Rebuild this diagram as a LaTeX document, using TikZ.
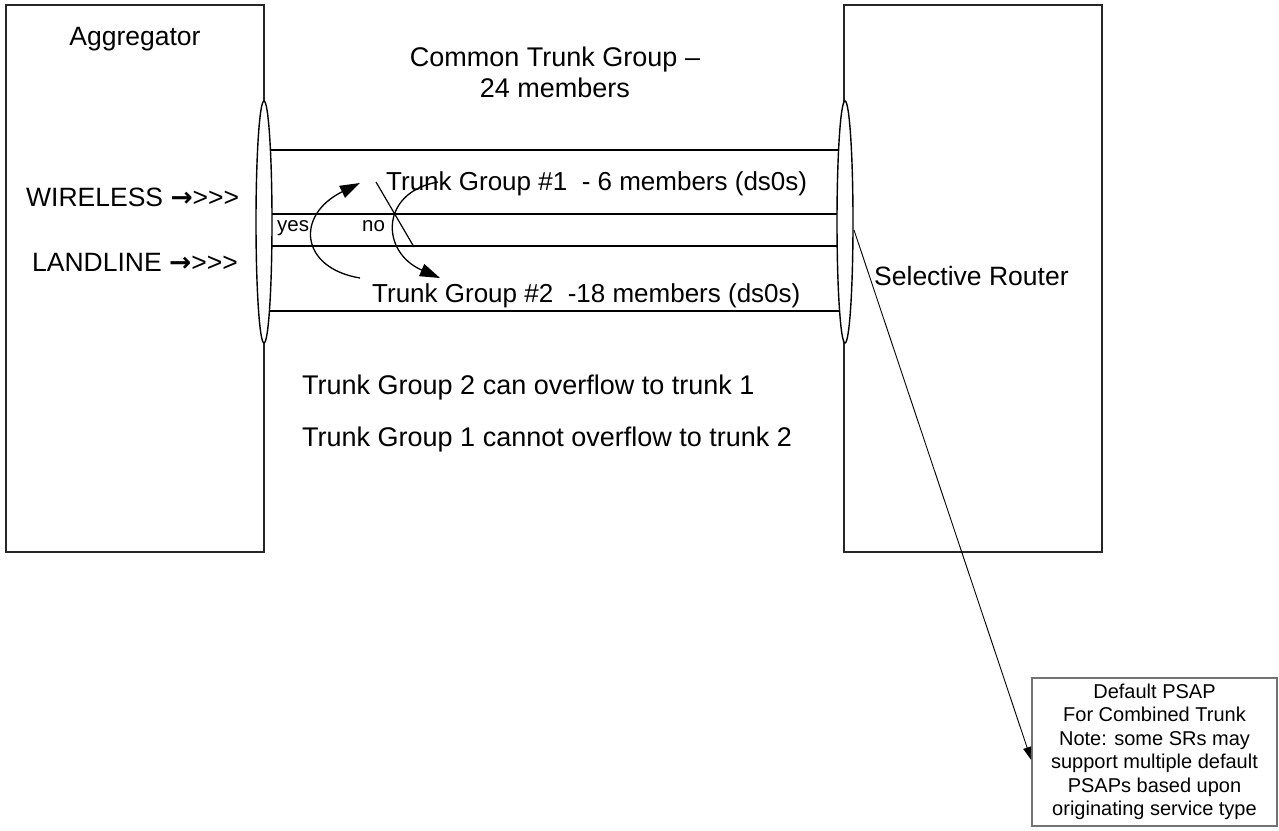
\documentclass[tikz,border=0pt]{standalone}
\usepackage{fontspec}
\setmainfont{Liberation Sans}[Ligatures=TeXOff]
\newfontfamily\symfont{DejaVu Sans}
\usetikzlibrary{arrows.meta,shapes.geometric}
\newcommand{\flowarrow}{{\symfont\bfseries →}}
\begin{document}
\begin{tikzpicture}[x=1pt,y=-1pt,
  switchbox/.style={draw=black!85, line width=1.8pt, inner sep=0pt},
  trunk/.style={draw=black, line width=1.4pt, fill=white, ellipse, inner sep=0pt,
    minimum width=16pt, minimum height=242pt},
  member/.style={draw=black, line width=1.3pt},
  lbl/.style={inner sep=0pt, font=\fontsize{26.5}{31}\selectfont},
  tglbl/.style={inner sep=0pt, font=\fontsize{26}{31}\selectfont},
  biglbl/.style={inner sep=0pt, font=\fontsize{27}{32}\selectfont},
  smalllbl/.style={inner sep=0pt, font=\fontsize{20.5}{24}\selectfont},
  choice/.style={line width=1.3pt, -{Triangle[length=20pt,width=13pt]}},
  pointer/.style={line width=0.9pt, -{Triangle[length=13pt,width=8pt]}},
  notebox/.style={draw=black!55, line width=1.5pt, align=center, inner sep=0pt,
    minimum width=245pt, minimum height=148pt, font=\fontsize{20}{23.5}\selectfont}
]
\useasboundingbox (0,0) rectangle (1279,830);

% switching offices
\node[switchbox, minimum width=258pt, minimum height=547pt] (agg) at (135,278.5) {};
\node[switchbox, minimum width=258pt, minimum height=547pt] (sr) at (973,278.5) {};

% trunk group members
\coordinate (l1) at (264,150); \coordinate (r1) at (845,150);
\coordinate (l2) at (264,214); \coordinate (r2) at (845,214);
\coordinate (l3) at (264,246); \coordinate (r3) at (845,246);
\coordinate (l4) at (264,311); \coordinate (r4) at (845,311);
\draw[member] (l1) -- (r1);
\draw[member] (l2) -- (r2);
\draw[member] (l3) -- (r3);
\draw[member] (l4) -- (r4);

% trunk bundles at both ends
\node[trunk] (lend) at (264,222) {};
\node[trunk] (rend) at (845,222) {};

% labels
\node[lbl, anchor=base] (aggname) at (135,45) {Aggregator};
\node[biglbl, anchor=base] (ctg1) at (555,66) {Common Trunk Group –};
\node[biglbl, anchor=base] (ctg2) at (555,97) {24 members};
\node[lbl, anchor=base west] (wl) at (26,206) {WIRELESS \flowarrow>>>};
\node[lbl, anchor=base west] (ll) at (32,271) {LANDLINE \flowarrow>>>};
\node[tglbl, anchor=base west] (tg1) at (386,190) {Trunk Group \#1\ \ - 6 members (ds0s)};
\node[tglbl, anchor=base west] (tg2) at (372,302) {Trunk Group \#2\ \ -18 members (ds0s)};
\node[smalllbl, anchor=base west] (yes) at (277,231) {yes};
\node[smalllbl, anchor=base west] (no) at (362,231) {no};
\node[lbl, anchor=base west] (srname) at (874,285) {Selective Router};
\node[biglbl, anchor=base west] (ov1) at (302,394) {Trunk Group 2 can overflow to trunk 1};
\node[biglbl, anchor=base west] (ov2) at (302,446) {Trunk Group 1 cannot overflow to trunk 2};

% overflow choices
\coordinate (yesS) at (360,278); \coordinate (yesE) at (360,183);
\coordinate (noS) at (438,182);  \coordinate (noE) at (440,278);
\draw[choice] (yesS) .. controls (300,268) and (295,215) .. (yesE);
\draw[choice] (noS) .. controls (380,192) and (380,252) .. (noE);
\coordinate (xa) at (376,182); \coordinate (xb) at (414,247);
\draw[line width=1.2pt] (xa) -- (xb);

% default PSAP note
\node[notebox] (psap) at (1154.5,752) {Default PSAP\\For Combined Trunk\\Note: some SRs may\\support multiple default\\PSAPs based upon\\originating service type};
\coordinate (pS) at (854,230);
\coordinate (pE) at (psap.west |- 0,760);
\draw[pointer] (pS) -- (pE);
\end{tikzpicture}
\end{document}
